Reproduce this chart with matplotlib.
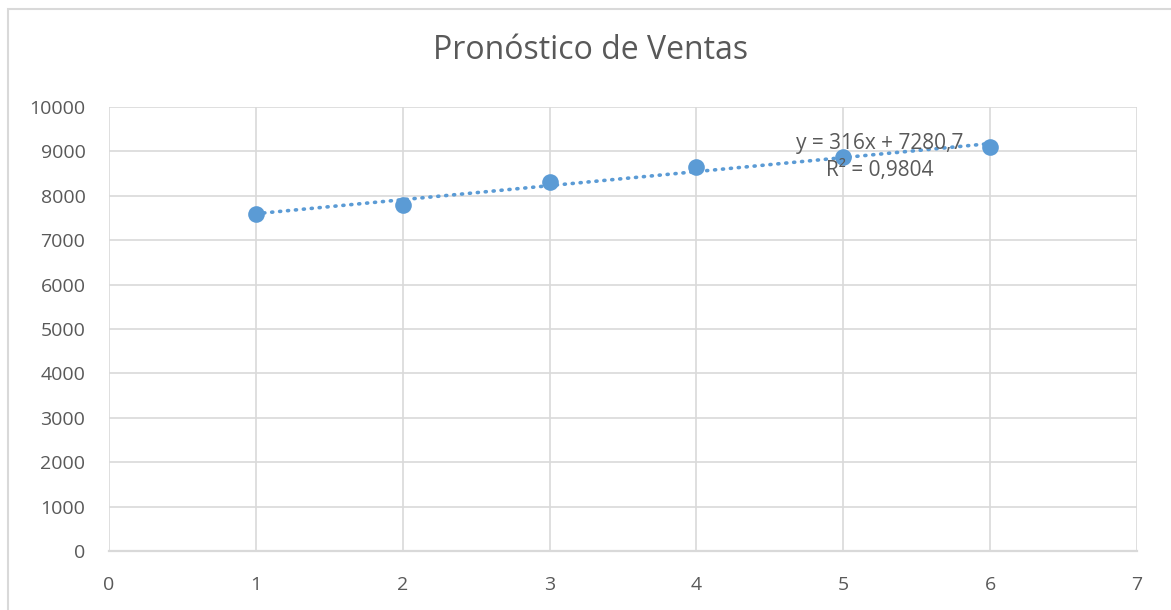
import numpy as np
import matplotlib
matplotlib.use("Agg")
import matplotlib.pyplot as plt
from matplotlib.patches import Rectangle

plt.rcParams['font.family'] = ['Open Sans', 'DejaVu Sans']

# Sales per period
periods = [1, 2, 3, 4, 5, 6]
sales = [7600, 7800, 8300, 8650, 8870, 9100]

x_ticks = [0, 1, 2, 3, 4, 5, 6, 7]
y_ticks = [0, 1000, 2000, 3000, 4000, 5000, 6000, 7000, 8000, 9000, 10000]

title = "Pronóstico de Ventas"
point_color = "#5B9BD5"
grid_color = "#D9D9D9"
text_color = "#595959"

fig = plt.figure(figsize=(11.71, 6.10), dpi=100)
ax = fig.add_axes([0.0931, 0.0967, 0.8779, 0.7279])

# Linear trend fitted to the sales
x = np.array(periods, dtype=float)
y = np.array(sales, dtype=float)
slope, intercept = np.polyfit(x, y, 1)
fit = slope * x + intercept
r2 = 1 - np.sum((y - fit) ** 2) / np.sum((y - y.mean()) ** 2)

ax.plot(x, fit, linestyle=(0, (0.3, 1.9)), dash_capstyle='round',
        color=point_color, linewidth=2.6, zorder=3)
ax.plot(periods, sales, 'o', color=point_color, markersize=12,
        markeredgewidth=0, zorder=4)

ax.set_xlim(0, 7)
ax.set_ylim(0, 10000)
ax.set_xticks(x_ticks)
ax.set_yticks(y_ticks)
ax.grid(True, color=grid_color, linewidth=1.2)
ax.set_axisbelow(True)
for side in ['top', 'right', 'left']:
    ax.spines[side].set_visible(False)
ax.spines['bottom'].set_color(grid_color)
ax.spines['bottom'].set_linewidth(1.6)
ax.tick_params(axis='both', length=0, labelsize=14, labelcolor=text_color)
ax.tick_params(axis='y', pad=17)
ax.tick_params(axis='x', pad=18)

def fmt(v, nd):
    return f"{v:.{nd}f}".replace('.', ',')

eq = f"y = {slope:.0f}x + {fmt(intercept, 1)}\nR² = {fmt(r2, 4)}"
ax.text(5.25, 8870, eq, ha='center', va='center', fontsize=15,
        color=text_color, linespacing=1.35, zorder=5)

fig.text(0.504, 0.918, title, ha='center', va='center', fontsize=23,
         color=text_color)

# Chart frame
fig.patches.append(Rectangle((8 / 1171, -0.1), 1.2, (610 - 9) / 610 + 0.1,
                             transform=fig.transFigure, fill=False,
                             edgecolor=grid_color, linewidth=1.5))

fig.savefig("out.png", dpi=100)
